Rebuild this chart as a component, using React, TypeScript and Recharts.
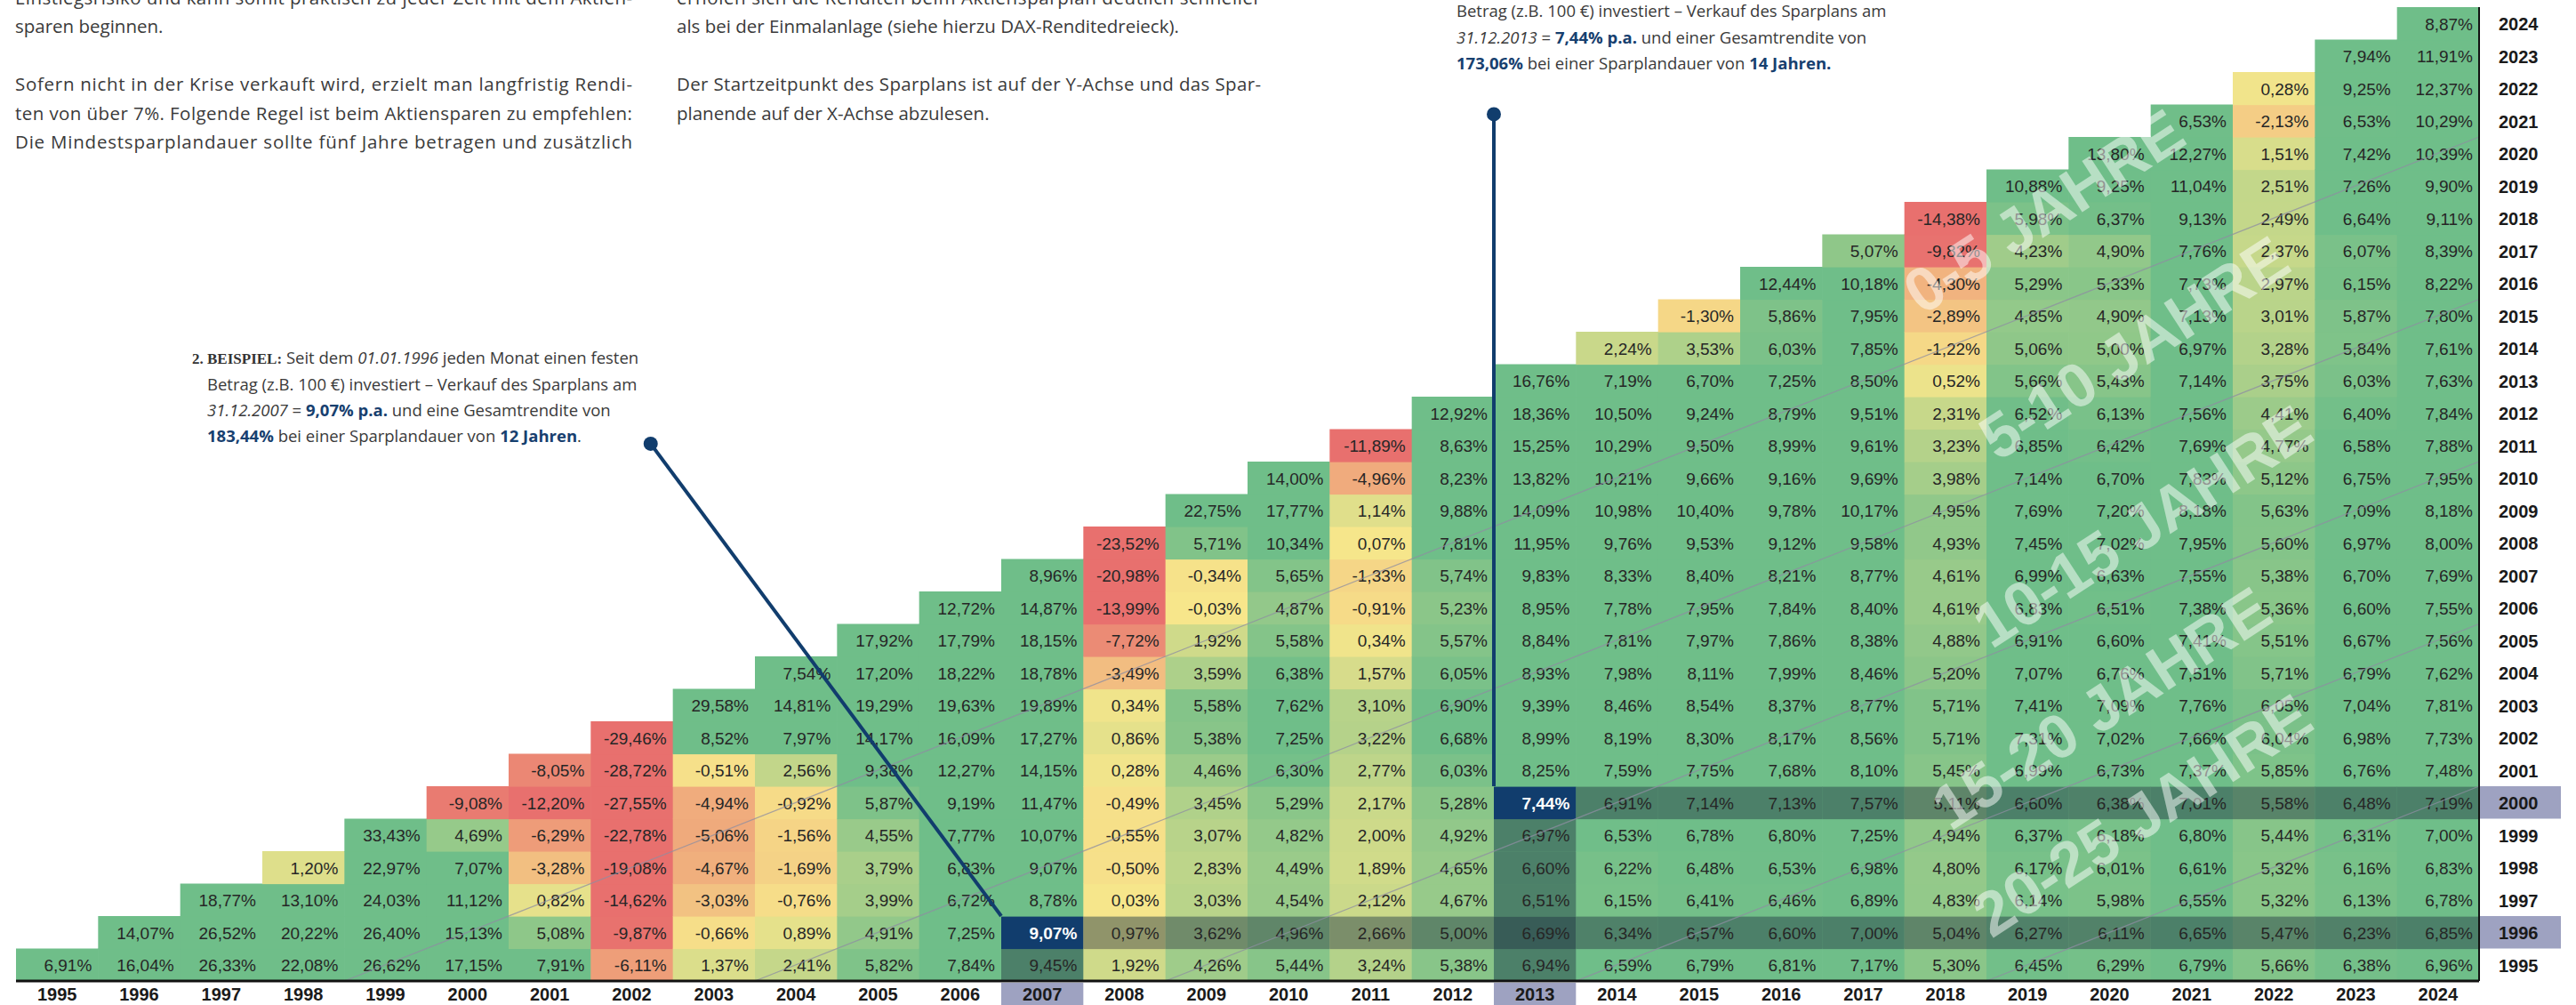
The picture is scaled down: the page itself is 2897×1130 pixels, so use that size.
import React from 'react';
import { ScatterChart, Scatter, XAxis, YAxis, ReferenceLine, ReferenceDot } from 'recharts';

// ---------- DATA ----------
const END_YEARS = [1995, 1996, 1997, 1998, 1999, 2000, 2001, 2002, 2003, 2004, 2005, 2006, 2007, 2008, 2009, 2010, 2011, 2012, 2013, 2014, 2015, 2016, 2017, 2018, 2019, 2020, 2021, 2022, 2023, 2024];
const START_YEARS = [1995, 1996, 1997, 1998, 1999, 2000, 2001, 2002, 2003, 2004, 2005, 2006, 2007, 2008, 2009, 2010, 2011, 2012, 2013, 2014, 2015, 2016, 2017, 2018, 2019, 2020, 2021, 2022, 2023, 2024];

// returns p.a. per end year (column), listed from start year 1995 upward
const end1995 = [6.91];
const end1996 = [16.04, 14.07];
const end1997 = [26.33, 26.52, 18.77];
const end1998 = [22.08, 20.22, 13.10, 1.20];
const end1999 = [26.62, 26.40, 24.03, 22.97, 33.43];
const end2000 = [17.15, 15.13, 11.12, 7.07, 4.69, -9.08];
const end2001 = [7.91, 5.08, 0.82, -3.28, -6.29, -12.20, -8.05];
const end2002 = [-6.11, -9.87, -14.62, -19.08, -22.78, -27.55, -28.72, -29.46];
const end2003 = [1.37, -0.66, -3.03, -4.67, -5.06, -4.94, -0.51, 8.52, 29.58];
const end2004 = [2.41, 0.89, -0.76, -1.69, -1.56, -0.92, 2.56, 7.97, 14.81, 7.54];
const end2005 = [5.82, 4.91, 3.99, 3.79, 4.55, 5.87, 9.38, 14.17, 19.29, 17.20, 17.92];
const end2006 = [7.84, 7.25, 6.72, 6.83, 7.77, 9.19, 12.27, 16.09, 19.63, 18.22, 17.79, 12.72];
const end2007 = [9.45, 9.07, 8.78, 9.07, 10.07, 11.47, 14.15, 17.27, 19.89, 18.78, 18.15, 14.87, 8.96];
const end2008 = [1.92, 0.97, 0.03, -0.50, -0.55, -0.49, 0.28, 0.86, 0.34, -3.49, -7.72, -13.99, -20.98, -23.52];
const end2009 = [4.26, 3.62, 3.03, 2.83, 3.07, 3.45, 4.46, 5.38, 5.58, 3.59, 1.92, -0.03, -0.34, 5.71, 22.75];
const end2010 = [5.44, 4.96, 4.54, 4.49, 4.82, 5.29, 6.30, 7.25, 7.62, 6.38, 5.58, 4.87, 5.65, 10.34, 17.77, 14.00];
const end2011 = [3.24, 2.66, 2.12, 1.89, 2.00, 2.17, 2.77, 3.22, 3.10, 1.57, 0.34, -0.91, -1.33, 0.07, 1.14, -4.96, -11.89];
const end2012 = [5.38, 5.00, 4.67, 4.65, 4.92, 5.28, 6.03, 6.68, 6.90, 6.05, 5.57, 5.23, 5.74, 7.81, 9.88, 8.23, 8.63, 12.92];
const end2013 = [6.94, 6.69, 6.51, 6.60, 6.97, 7.44, 8.25, 8.99, 9.39, 8.93, 8.84, 8.95, 9.83, 11.95, 14.09, 13.82, 15.25, 18.36, 16.76];
const end2014 = [6.59, 6.34, 6.15, 6.22, 6.53, 6.91, 7.59, 8.19, 8.46, 7.98, 7.81, 7.78, 8.33, 9.76, 10.98, 10.21, 10.29, 10.50, 7.19, 2.24];
const end2015 = [6.79, 6.57, 6.41, 6.48, 6.78, 7.14, 7.75, 8.30, 8.54, 8.11, 7.97, 7.95, 8.40, 9.53, 10.40, 9.66, 9.50, 9.24, 6.70, 3.53, -1.30];
const end2016 = [6.81, 6.60, 6.46, 6.53, 6.80, 7.13, 7.68, 8.17, 8.37, 7.99, 7.86, 7.84, 8.21, 9.12, 9.78, 9.16, 8.99, 8.79, 7.25, 6.03, 5.86, 12.44];
const end2017 = [7.17, 7.00, 6.89, 6.98, 7.25, 7.57, 8.10, 8.56, 8.77, 8.46, 8.38, 8.40, 8.77, 9.58, 10.17, 9.69, 9.61, 9.51, 8.50, 7.85, 7.95, 10.18, 5.07];
const end2018 = [5.30, 5.04, 4.83, 4.80, 4.94, 5.11, 5.45, 5.71, 5.71, 5.20, 4.88, 4.61, 4.61, 4.93, 4.95, 3.98, 3.23, 2.31, 0.52, -1.22, -2.89, -4.30, -9.82, -14.38];
const end2019 = [6.45, 6.27, 6.14, 6.17, 6.37, 6.60, 6.99, 7.31, 7.41, 7.07, 6.91, 6.83, 6.99, 7.45, 7.69, 7.14, 6.85, 6.52, 5.66, 5.06, 4.85, 5.29, 4.23, 5.98, 10.88];
const end2020 = [6.29, 6.11, 5.98, 6.01, 6.18, 6.38, 6.73, 7.02, 7.09, 6.76, 6.60, 6.51, 6.63, 7.02, 7.20, 6.70, 6.42, 6.13, 5.43, 5.00, 4.90, 5.33, 4.90, 6.37, 9.25, 13.80];
const end2021 = [6.79, 6.65, 6.55, 6.61, 6.80, 7.01, 7.37, 7.66, 7.76, 7.51, 7.41, 7.38, 7.55, 7.95, 8.18, 7.83, 7.69, 7.56, 7.14, 6.97, 7.13, 7.73, 7.76, 9.13, 11.04, 12.27, 6.53];
const end2022 = [5.66, 5.47, 5.32, 5.32, 5.44, 5.58, 5.85, 6.04, 6.05, 5.71, 5.51, 5.36, 5.38, 5.60, 5.63, 5.12, 4.77, 4.41, 3.75, 3.28, 3.01, 2.97, 2.37, 2.49, 2.51, 1.51, -2.13, 0.28];
const end2023 = [6.38, 6.23, 6.13, 6.16, 6.31, 6.48, 6.76, 6.98, 7.04, 6.79, 6.67, 6.60, 6.70, 6.97, 7.09, 6.75, 6.58, 6.40, 6.03, 5.84, 5.87, 6.15, 6.07, 6.64, 7.26, 7.42, 6.53, 9.25, 7.94];
const end2024 = [6.96, 6.85, 6.78, 6.83, 7.00, 7.19, 7.48, 7.73, 7.81, 7.62, 7.56, 7.55, 7.69, 8.00, 8.18, 7.95, 7.88, 7.84, 7.63, 7.61, 7.80, 8.22, 8.39, 9.11, 9.90, 10.39, 10.29, 12.37, 11.91, 8.87];

const COLUMNS = [end1995, end1996, end1997, end1998, end1999, end2000, end2001, end2002, end2003, end2004, end2005, end2006, end2007, end2008, end2009, end2010, end2011, end2012, end2013, end2014, end2015, end2016, end2017, end2018, end2019, end2020, end2021, end2022, end2023, end2024];

// examples (start year, end year)
const EXAMPLE_1 = { start: 2000, end: 2013 };
const EXAMPLE_2 = { start: 1996, end: 2007 };

// duration band borders (years)
const BAND_BORDERS = [5, 10, 15, 20, 25];
const BAND_LABELS = ['0-5 JAHRE', '5-10 JAHRE', '10-15 JAHRE', '15-20 JAHRE', '20-25 JAHRE'];

const cells = COLUMNS.flatMap((col, ci) =>
  col.map((v, k) => ({ end: END_YEARS[ci], start: START_YEARS[k], value: v }))
);

// ---------- LAYOUT ----------
const W = 2897;
const H = 1130;
const M_LEFT = 18;
const M_TOP = 8;
const X_AXIS_H = 27;
const Y_AXIS_W = 109;
const CW = (W - M_LEFT - Y_AXIS_W) / END_YEARS.length;
const RH = (H - M_TOP - X_AXIS_H) / START_YEARS.length;

const NAVY = '#113d6d';
const HL = '#9ea2c1';
const CELL_FONT = "'Liberation Sans', Arial, Helvetica, sans-serif";
const TEXT_FONT = "'Open Sans', 'Noto Sans', sans-serif";

const RED = [232, 112, 110];
const YEL = [247, 230, 139];
const GRN = [111, 190, 137];
const mix = (a: number[], b: number[], t: number) =>
  `rgb(${a.map((c, i) => Math.round(c + (b[i] - c) * t)).join(',')})`;
const cellColor = (v: number) => {
  if (v <= 0) return mix(YEL, RED, Math.min(1, -v / 10));
  return mix(YEL, GRN, Math.min(1, v / 6.6));
};
const fmt = (v: number) => v.toFixed(2).replace('.', ',') + '%';

const overlayCount = (start: number, end: number) => {
  let n = 0;
  for (const ex of [EXAMPLE_1, EXAMPLE_2]) {
    if (start === ex.start && end > ex.end) n++;
    if (end === ex.end && start < ex.start) n++;
  }
  return n;
};

const CellShape = (props: any) => {
  const { cx, cy, payload } = props;
  if (cx == null || cy == null || !payload) return null;
  const { start, end, value } = payload;
  const selected =
    (start === EXAMPLE_1.start && end === EXAMPLE_1.end) ||
    (start === EXAMPLE_2.start && end === EXAMPLE_2.end);
  const n = overlayCount(start, end);
  const x = cx - CW / 2;
  const y = cy - RH / 2;
  const ov = [];
  for (let i = 0; i < n; i++) {
    ov.push(
      <rect key={i} x={x} y={y} width={CW + 0.6} height={RH + 0.6} fill="rgb(28,42,62)" fillOpacity={0.42} />
    );
  }
  return (
    <g>
      <rect x={x} y={y} width={CW + 0.6} height={RH + 0.6} fill={selected ? NAVY : cellColor(value)} />
      {ov}
      <text
        x={x + CW - 7}
        y={cy + 1}
        textAnchor="end"
        dominantBaseline="central"
        fontFamily={CELL_FONT}
        fontSize={19}
        fontWeight={selected ? 700 : 400}
        fill={selected ? '#ffffff' : '#262626'}
      >
        {fmt(value)}
      </text>
    </g>
  );
};

const XTick = (props: any) => {
  const { x, y, payload } = props;
  const hl = payload.value === EXAMPLE_1.end || payload.value === EXAMPLE_2.end;
  return (
    <g>
      {hl && <rect x={x - CW / 2} y={y + 2} width={CW} height={30} fill={HL} />}
      <text x={x} y={y + 15} textAnchor="middle" dominantBaseline="central" fontFamily={CELL_FONT} fontWeight={700} fontSize={20} fill="#1a1a1a">
        {payload.value}
      </text>
    </g>
  );
};

const YTick = (props: any) => {
  const { x, y, payload } = props;
  const hl = payload.value === EXAMPLE_1.start || payload.value === EXAMPLE_2.start;
  return (
    <g>
      {hl && <rect x={x + 1} y={y - RH / 2} width={91} height={RH} fill={HL} />}
      <text x={x + 22} y={y + 1} textAnchor="start" dominantBaseline="central" fontFamily={CELL_FONT} fontWeight={700} fontSize={20} fill="#1a1a1a">
        {payload.value}
      </text>
    </g>
  );
};

// watermark positions in data coordinates (end year, start year)
const WATERMARK_X = [2019.2, 2020.3, 2020.4, 2019.9, 2020.4];
const WATERMARK_Y = [2018.2, 2014.0, 2008.5, 2002.9, 1999.6];

const Watermark = (label: string) => (p: any) => {
  const { cx, cy } = p;
  if (cx == null) return null;
  return (
    <text
      x={cx}
      y={cy}
      transform={`rotate(-33 ${cx} ${cy})`}
      textAnchor="middle"
      dominantBaseline="central"
      fontFamily="'Liberation Sans', Arial, sans-serif"
      fontWeight={700}
      fontSize={70}
      fill="#ffffff"
      fillOpacity={0.5}
    >
      {label}
    </text>
  );
};

// annotation anchor points (data coords)
const DOT_1 = { x: 2012.5, y: 2021.2 };
const DOT_2 = { x: 2002.23, y: 2011.05 };

const txt = { fontFamily: TEXT_FONT, fill: '#3a3a3a' } as const;
const blue = { fill: '#17406f', fontWeight: 700 } as const;
const serif = "'Liberation Serif', 'DejaVu Serif', serif";

const TextOverlay = () => (
  <svg width={W} height={H} style={{ position: 'absolute', left: 0, top: 0, pointerEvents: 'none' }}>
    {/* left column paragraph */}
    <g {...txt} fontSize={20.5}>
      <text x={17} y={5} textLength={694} lengthAdjust="spacing">Einstiegsrisiko und kann somit praktisch zu jeder Zeit mit dem Aktien-</text>
      <text x={17} y={37}>sparen beginnen.</text>
      <text x={17} y={102} textLength={694} lengthAdjust="spacing">Sofern nicht in der Krise verkauft wird, erzielt man langfristig Rendi-</text>
      <text x={17} y={134.5} textLength={694} lengthAdjust="spacing">ten von über 7%. Folgende Regel ist beim Aktiensparen zu empfehlen:</text>
      <text x={17} y={167} textLength={694} lengthAdjust="spacing">Die Mindestsparplandauer sollte fünf Jahre betragen und zusätzlich</text>
      <text x={761} y={5} textLength={657} lengthAdjust="spacing">erholen sich die Renditen beim Aktiensparplan deutlich schneller</text>
      <text x={761} y={37}>als bei der Einmalanlage (siehe hierzu DAX-Renditedreieck).</text>
      <text x={761} y={102} textLength={657} lengthAdjust="spacing">Der Startzeitpunkt des Sparplans ist auf der Y-Achse und das Spar-</text>
      <text x={761} y={134.5}>planende auf der X-Achse abzulesen.</text>
    </g>
    {/* example 2 */}
    <g {...txt} fontSize={18.5}>
      <text x={216} y={409}>
        <tspan fontFamily={serif} fontWeight={700} fontSize={17} fill="#333">2. BEISPIEL:</tspan>
        <tspan> Seit dem </tspan>
        <tspan fontStyle="italic">01.01.1996</tspan>
        <tspan> jeden Monat einen festen</tspan>
      </text>
      <text x={233} y={438.5}>Betrag (z.B. 100 €) investiert – Verkauf des Sparplans am</text>
      <text x={233} y={468}>
        <tspan fontStyle="italic">31.12.2007</tspan>
        <tspan> = </tspan>
        <tspan {...blue}>9,07% p.a.</tspan>
        <tspan> und eine Gesamtrendite von</tspan>
      </text>
      <text x={233} y={497}>
        <tspan {...blue}>183,44%</tspan>
        <tspan> bei einer Sparplandauer von </tspan>
        <tspan {...blue}>12 Jahren</tspan>
        <tspan>.</tspan>
      </text>
    </g>
    {/* example 1 */}
    <g {...txt} fontSize={18.5}>
      <text x={1620} y={-10}>
        <tspan fontFamily={serif} fontWeight={700} fontSize={17} fill="#333">1. BEISPIEL:</tspan>
        <tspan> Seit dem </tspan>
        <tspan fontStyle="italic">01.01.2000</tspan>
        <tspan> jeden Monat einen festen</tspan>
      </text>
      <text x={1638} y={19}>Betrag (z.B. 100 €) investiert – Verkauf des Sparplans am</text>
      <text x={1638} y={48.5}>
        <tspan fontStyle="italic">31.12.2013</tspan>
        <tspan> = </tspan>
        <tspan {...blue}>7,44% p.a.</tspan>
        <tspan> und einer Gesamtrendite von</tspan>
      </text>
      <text x={1638} y={78}>
        <tspan {...blue}>173,06%</tspan>
        <tspan> bei einer Sparplandauer von </tspan>
        <tspan {...blue}>14 Jahren.</tspan>
      </text>
    </g>
  </svg>
);

export default function App() {
  return (
    <div style={{ position: 'absolute', left: 0, top: 0, width: W, height: H, background: '#fff', overflow: 'hidden' }}>
      <ScatterChart width={W} height={H} margin={{ top: M_TOP, right: 0, bottom: 0, left: M_LEFT }}>
        <XAxis
          type="number"
          dataKey="end"
          domain={[1994.5, 2024.5]}
          ticks={END_YEARS}
          interval={0}
          allowDataOverflow
          height={X_AXIS_H}
          tickSize={0}
          tickMargin={0}
          tickLine={false}
          axisLine={{ stroke: '#111', strokeWidth: 3 }}
          tick={(p: any) => <XTick {...p} />}
          zIndex={900}
        />
        <YAxis
          type="number"
          dataKey="start"
          orientation="right"
          domain={[1994.5, 2024.5]}
          ticks={START_YEARS}
          interval={0}
          allowDataOverflow
          width={Y_AXIS_W}
          tickSize={0}
          tickMargin={0}
          tickLine={false}
          axisLine={{ stroke: '#111', strokeWidth: 2 }}
          tick={(p: any) => <YTick {...p} />}
          zIndex={900}
        />
        <Scatter data={cells} shape={CellShape} isAnimationActive={false} />
        {BAND_BORDERS.map((d) => (
          <ReferenceLine
            key={d}
            segment={[
              { x: 1995 + d - 1 - 0.5, y: 1994.5 },
              { x: 2024.5, y: 2024.5 - d + 1 },
            ]}
            stroke="#8d8da2"
            strokeOpacity={0.75}
            strokeWidth={1.3}
            ifOverflow="visible"
            zIndex={650}
          />
        ))}
        {BAND_LABELS.map((label, i) => (
          <ReferenceDot
            key={label}
            x={WATERMARK_X[i]}
            y={WATERMARK_Y[i]}
            r={1}
            ifOverflow="visible"
            shape={Watermark(label)}
            zIndex={700}
          />
        ))}
        <ReferenceLine
          segment={[
            { x: DOT_2.x, y: DOT_2.y },
            { x: EXAMPLE_2.end - 0.5, y: EXAMPLE_2.start + 0.5 },
          ]}
          stroke={NAVY}
          strokeWidth={4}
          ifOverflow="visible"
          zIndex={800}
        />
        <ReferenceLine
          segment={[
            { x: DOT_1.x, y: DOT_1.y },
            { x: EXAMPLE_1.end - 0.5, y: EXAMPLE_1.start + 0.5 },
          ]}
          stroke={NAVY}
          strokeWidth={4}
          ifOverflow="visible"
          zIndex={800}
        />
        <ReferenceDot x={DOT_2.x} y={DOT_2.y} r={8} fill={NAVY} stroke="none" ifOverflow="visible" zIndex={810} />
        <ReferenceDot x={DOT_1.x} y={DOT_1.y} r={8} fill={NAVY} stroke="none" ifOverflow="visible" zIndex={810} />
      </ScatterChart>
      <TextOverlay />
    </div>
  );
}
